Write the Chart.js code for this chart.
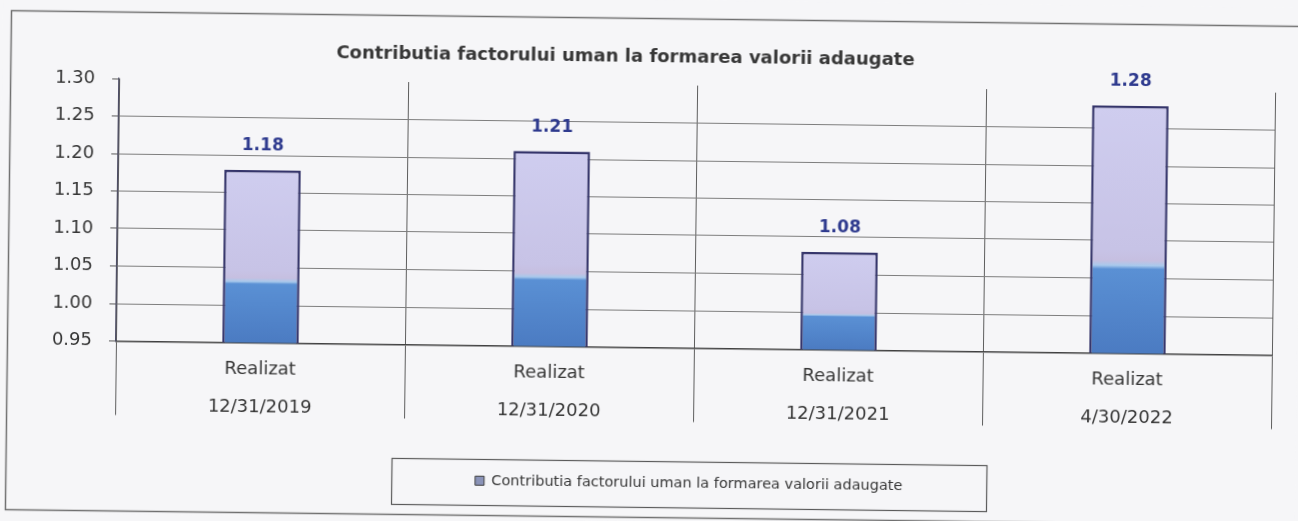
<!DOCTYPE html>
<html>
<head>
<meta charset="utf-8">
<script src="https://cdn.jsdelivr.net/npm/chart.js@4.4.1/dist/chart.umd.min.js"></script>
<style>
  html, body { margin: 0; padding: 0; background: #f6f6f8; overflow: hidden; width: 1298px; height: 521px; }
  #wrap { position: absolute; left: 0; top: 0; width: 1298px; height: 521px; transform: rotate(0.7deg); transform-origin: 50% 50%; }
  canvas { display: block; }
</style>
</head>
<body>
<div id="wrap"><canvas id="c" width="1298" height="521"></canvas></div>
<script>
// Chart content
const chartTitle = 'Contributia factorului uman la formarea valorii adaugate';
const seriesName = 'Contributia factorului uman la formarea valorii adaugate';
const periodStatus = ['Realizat', 'Realizat', 'Realizat', 'Realizat'];
const periodDates = ['12/31/2019', '12/31/2020', '12/31/2021', '4/30/2022'];
const contributionValues = [1.18, 1.21, 1.08, 1.28];
const yMin = 0.95;
const yMax = 1.30;
const yStep = 0.05;

const FAMILY = "'DejaVu Sans', 'Liberation Sans', sans-serif";
const TEXT = '#363636';

// Two-tone fill of each bar: blue lower part, lavender upper part
function barFill(context) {
  const chart = context.chart;
  if (!chart.chartArea || context.type !== 'data') return '#c9c6ea';
  const y = chart.scales.y;
  const top = y.getPixelForValue(context.raw);
  const base = y.getPixelForValue(y.min);
  const g = chart.ctx.createLinearGradient(0, base, 0, top);
  g.addColorStop(0, '#4b7bc2');
  g.addColorStop(0.34, '#5a90d4');
  g.addColorStop(0.355, '#a9c9ec');
  g.addColorStop(0.375, '#c6bfe0');
  g.addColorStop(0.42, '#c7c3e6');
  g.addColorStop(1, '#cfcdef');
  return g;
}

// Page background and outer frame
const framePlugin = {
  id: 'sheetFrame',
  beforeDraw(chart) {
    const { ctx, width } = chart;
    ctx.save();
    ctx.fillStyle = '#f6f6f8';
    ctx.fillRect(0, 0, chart.width, chart.height);
    ctx.strokeStyle = '#707070';
    ctx.lineWidth = 1.5;
    ctx.strokeRect(8.5, 18.5, width + 40, 499);
    ctx.restore();
  }
};

// Title text
const titlePlugin = {
  id: 'sheetTitle',
  afterDraw(chart, args, opts) {
    const ctx = chart.ctx;
    ctx.save();
    ctx.font = 'bold 18px ' + FAMILY;
    ctx.fillStyle = '#383838';
    ctx.textAlign = 'center';
    ctx.textBaseline = 'middle';
    ctx.fillText(opts.text, opts.x, opts.y);
    ctx.restore();
  }
};

// Value labels above the bars
const valueLabelPlugin = {
  id: 'valueLabels',
  afterDatasetsDraw(chart) {
    const ctx = chart.ctx;
    const meta = chart.getDatasetMeta(0);
    const data = chart.data.datasets[0].data;
    ctx.save();
    ctx.font = 'bold 17px ' + FAMILY;
    ctx.fillStyle = '#2e3a8e';
    ctx.textAlign = 'center';
    ctx.textBaseline = 'middle';
    meta.data.forEach((bar, i) => {
      ctx.fillText(data[i].toFixed(2), bar.x, bar.y - 24);
    });
    ctx.restore();
  }
};

// Legend sits a little right of the canvas centre, inside a framed box
const legendFramePlugin = {
  id: 'legendFrame',
  afterLayout(chart, args, opts) {
    const lg = chart.legend;
    if (!lg) return;
    lg.left += opts.shift;
    lg.right += opts.shift;
  },
  afterDraw(chart) {
    const lg = chart.legend;
    if (!lg) return;
    const ctx = chart.ctx;
    const cx = (lg.left + lg.right) / 2;
    ctx.save();
    ctx.strokeStyle = '#5a5a5a';
    ctx.lineWidth = 1.2;
    ctx.strokeRect(Math.round(cx - 297.5) + 0.5, Math.round(lg.top - 5) + 0.5, 595, 46);
    ctx.restore();
  }
};

new Chart(document.getElementById('c'), {
  type: 'bar',
  data: {
    labels: periodDates.map((d, i) => [periodStatus[i], d]),
    datasets: [{
      label: seriesName,
      data: contributionValues,
      backgroundColor: barFill,
      borderColor: '#35356b',
      borderWidth: 2.5,
      borderSkipped: false,
      barPercentage: 0.265,
      categoryPercentage: 1
    }]
  },
  options: {
    responsive: false,
    animation: false,
    devicePixelRatio: 1,
    layout: { padding: { top: 85, left: 0, right: 25, bottom: 21 } },
    scales: {
      x: {
        grid: { offset: true, color: '#5e5e5e', lineWidth: 1, drawTicks: true, tickLength: 74, tickColor: '#5e5e5e' },
        border: { color: '#404040', width: 1.6 },
        ticks: {
          padding: -66,
          color: TEXT,
          font: { family: FAMILY, size: 18, lineHeight: '38px' },
          maxRotation: 0,
          autoSkip: false
        },
        afterFit(scale) { scale.height = 118; }
      },
      y: {
        min: yMin,
        max: yMax,
        ticks: {
          stepSize: yStep,
          padding: 17,
          color: TEXT,
          font: { family: FAMILY, size: 18 },
          callback: (v) => Number(v).toFixed(2)
        },
        grid: {
          color: (ctx) => (ctx.tick && Math.abs(ctx.tick.value - yMax) < 1e-6) ? 'rgba(0,0,0,0)' : '#7e7e7e',
          lineWidth: 1,
          tickLength: 7,
          tickColor: '#5a5a5a'
        },
        border: { color: '#4d4d66', width: 1.2 },
        afterFit(scale) { scale.width = 117; }
      }
    },
    plugins: {
      legend: {
        position: 'bottom',
        labels: {
          font: { family: FAMILY, size: 14.5 },
          color: TEXT,
          boxWidth: 9,
          boxHeight: 9,
          padding: 10,
          generateLabels(chart) {
            return Chart.defaults.plugins.legend.labels.generateLabels(chart).map((item) => {
              item.fillStyle = '#8a93b8';
              item.strokeStyle = '#3c3c3c';
              item.lineWidth = 1;
              return item;
            });
          }
        }
      },
      tooltip: { enabled: false },
      title: { display: false },
      sheetTitle: { text: chartTitle, x: 623, y: 57 },
      legendFrame: { shift: 55 }
    }
  },
  plugins: [framePlugin, titlePlugin, valueLabelPlugin, legendFramePlugin]
});
</script>
</body>
</html>
